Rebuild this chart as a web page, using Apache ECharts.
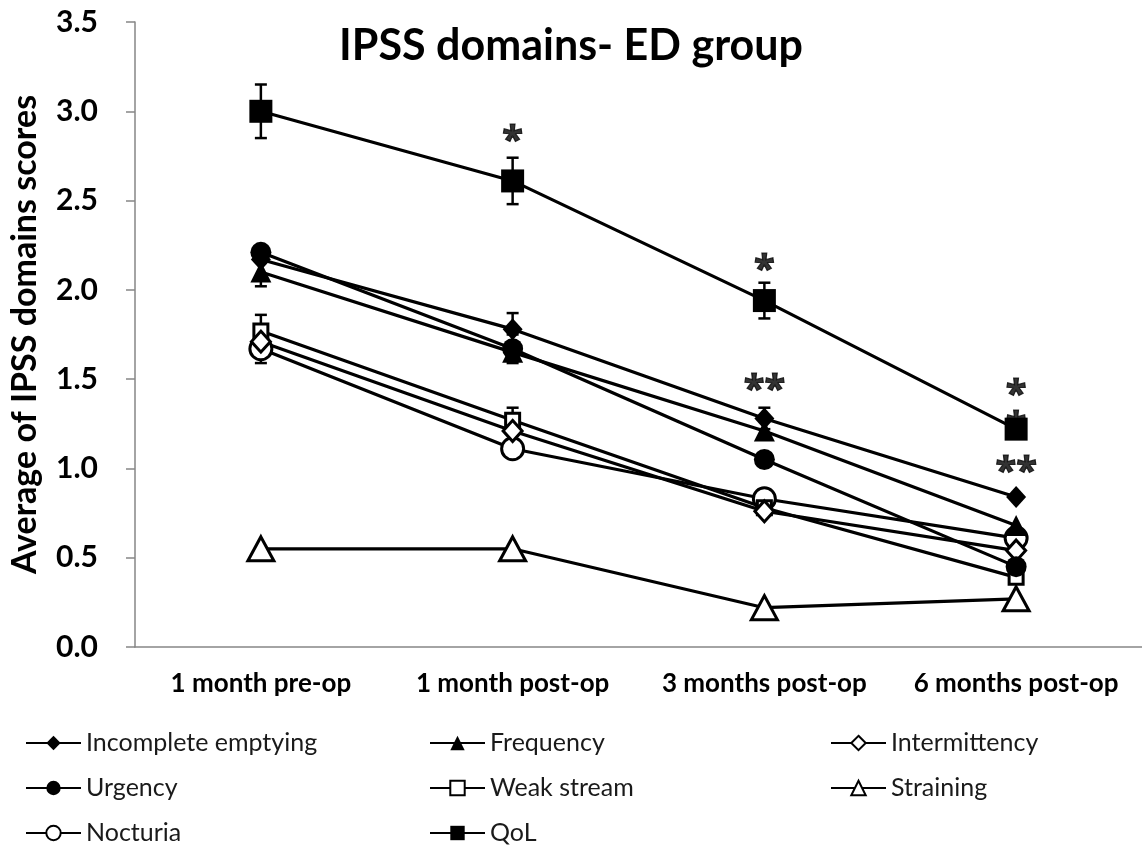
<!DOCTYPE html>
<html>
<head>
<meta charset="utf-8">
<script src="https://cdn.jsdelivr.net/npm/echarts@6/dist/echarts.min.js"></script>
<style>html,body{margin:0;padding:0;background:#fff}#c{width:1142px;height:850px}</style>
</head>
<body>
<div id="c"></div>
<script>
var categories = ['1 month pre-op', '1 month post-op', '3 months post-op', '6 months post-op'];
var yTicks = [0, 0.5, 1.0, 1.5, 2.0, 2.5, 3.0, 3.5];

var incompleteEmptying = [2.17, 1.78, 1.28, 0.84];
var frequency          = [2.10, 1.65, 1.21, 0.68];
var intermittency      = [1.71, 1.21, 0.76, 0.54];
var urgency            = [2.21, 1.67, 1.05, 0.45];
var weakStream         = [1.77, 1.27, 0.78, 0.39];
var straining          = [0.55, 0.55, 0.22, 0.27];
var nocturia           = [1.67, 1.11, 0.83, 0.61];
var qol                = [3.00, 2.61, 1.94, 1.22];

var errIncomplete = [null, 0.09, 0.06, null];
var errFrequency  = [0.08, null, null, null];
var errUrgency    = [null, 0.08, null, null];
var errWeak       = [0.09, 0.07, null, null];
var errNocturia   = [0.08, null, null, null];
var errQol        = [0.15, 0.13, 0.10, null];

var sigMarks = [[1, 2.87, '*'], [2, 2.15, '*'], [2, 1.48, '**'], [3, 1.45, '*'], [3, 1.27, '*'], [3, 1.02, '**']];

var legendNames = ['Incomplete emptying', 'Frequency', 'Intermittency', 'Urgency', 'Weak stream', 'Straining', 'Nocturia', 'QoL'];

var FONT = 'Lato';

function lineSeries(name, data, symbol, size, filled) {
  return {
    name: name, type: 'line', data: data, symbol: symbol, symbolSize: size,
    showSymbol: true, z: 3,
    lineStyle: {color: '#000', width: 3.2},
    itemStyle: filled ? {color: '#000', borderColor: '#000', borderWidth: 0}
                      : {color: '#fff', borderColor: '#000', borderWidth: 3},
    emphasis: {disabled: true},
    animation: false
  };
}

function errSeries(vals, errs) {
  var d = [];
  for (var i = 0; i < vals.length; i++) {
    if (errs[i] != null) d.push([i, vals[i], errs[i]]);
  }
  return {
    type: 'custom', z: 2, silent: true, animation: false,
    data: d,
    renderItem: function (params, api) {
      var x = api.value(0), v = api.value(1), e = api.value(2);
      var top = api.coord([x, v + e]);
      var bot = api.coord([x, v - e]);
      var hw = 6;
      var st = {stroke: '#000', lineWidth: 2.5};
      return {type: 'group', children: [
        {type: 'line', shape: {x1: top[0], y1: top[1], x2: bot[0], y2: bot[1]}, style: st},
        {type: 'line', shape: {x1: top[0] - hw, y1: top[1], x2: top[0] + hw, y2: top[1]}, style: st},
        {type: 'line', shape: {x1: bot[0] - hw, y1: bot[1], x2: bot[0] + hw, y2: bot[1]}, style: st}
      ]};
    }
  };
}

var colLeft = [25, 429, 830];
var rowCenter = [743, 788, 833];
var legends = legendNames.map(function (n, i) {
  var col = i % 3, row = Math.floor(i / 3);
  return {
    left: colLeft[col], top: rowCenter[row] - 13, itemWidth: 55, itemHeight: 18,
    textStyle: {fontFamily: FONT, fontSize: 25, color: '#1a1a1a', lineHeight: 26},
    data: [n], selectedMode: false, padding: 0
  };
});

var chart = echarts.init(document.getElementById('c'));
chart.setOption({
  backgroundColor: '#fff',
  animation: false,
  title: {
    text: 'IPSS domains- ED group', left: 566, top: 20, textAlign: 'center',
    textStyle: {fontFamily: FONT, fontSize: 43, fontWeight: 'bold', color: '#000'}
  },
  legend: legends,
  grid: {left: 127, width: 1024, top: 22, height: 625, containLabel: false},
  xAxis: {
    type: 'category', data: categories, boundaryGap: true,
    axisLine: {lineStyle: {color: '#868686', width: 1.5}},
    axisTick: {alignWithLabel: true, length: 8, lineStyle: {color: '#868686', width: 1.5}},
    axisLabel: {interval: 0, fontFamily: FONT, fontSize: 26, fontWeight: 'bold', color: '#000', margin: 24}
  },
  yAxis: {
    type: 'value', min: 0, max: 3.5, interval: 0.5,
    name: 'Average of IPSS domains scores', nameLocation: 'middle', nameGap: 93,
    nameTextStyle: {fontFamily: FONT, fontSize: 34, fontWeight: 'bold', color: '#000'},
    axisLine: {show: true, lineStyle: {color: '#868686', width: 1.5}},
    axisTick: {show: true, length: 9, lineStyle: {color: '#868686', width: 1.5}},
    splitLine: {show: false},
    axisLabel: {fontFamily: FONT, fontSize: 30, fontWeight: 'bold', color: '#000', margin: 37,
      formatter: function (v) { return yTicks.indexOf(v) >= 0 ? v.toFixed(1) : ''; }}
  },
  series: [
    {
      type: 'scatter', data: sigMarks, symbolSize: 0, silent: true, z: 1, animation: false,
      label: {show: true, position: 'inside', offset: [0, 8],
        fontFamily: 'Open Sans', fontSize: 38, fontWeight: 'bold', color: '#000',
        textBorderColor: '#000', textBorderWidth: 1.2,
        formatter: function (p) { return p.value[2]; }}
    },
    errSeries(incompleteEmptying, errIncomplete),
    errSeries(frequency, errFrequency),
    errSeries(urgency, errUrgency),
    errSeries(weakStream, errWeak),
    errSeries(nocturia, errNocturia),
    errSeries(qol, errQol),
    lineSeries('Straining', straining, 'triangle', [26, 24], false),
    lineSeries('Nocturia', nocturia, 'circle', 22, false),
    lineSeries('Weak stream', weakStream, 'rect', 14, false),
    lineSeries('Intermittency', intermittency, 'diamond', [19, 21], false),
    lineSeries('Urgency', urgency, 'circle', 21, true),
    lineSeries('Frequency', frequency, 'triangle', [21, 21], true),
    lineSeries('Incomplete emptying', incompleteEmptying, 'diamond', [20, 22], true),
    lineSeries('QoL', qol, 'rect', 23, true)
  ]
});
</script>
</body>
</html>
